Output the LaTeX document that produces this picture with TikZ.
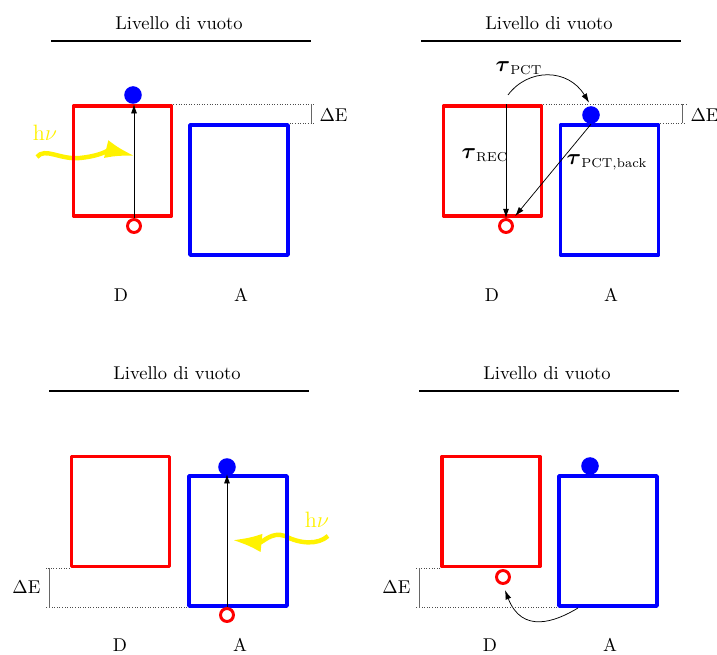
\documentclass[tikz,border=0pt]{standalone}
\usepackage{amsmath}
\usepackage{tikz}
\usetikzlibrary{arrows,arrows.meta}

\begin{document}
\begin{tikzpicture}[x=0.54pt, y=-0.54pt,
    donor/.style={draw=red, line width=2pt, line join=round, inner sep=0pt, minimum width=52.9pt, minimum height=59.4pt},
    acceptor/.style={donor, draw=blue, minimum height=70.2pt},
    elec/.style={circle, fill=blue, inner sep=0pt, minimum size=9.5pt},
    hole/.style={circle, draw=red, line width=1.6pt, inner sep=0pt, minimum size=7pt},
    photon/.style={yellow, line width=2.4pt, -{Latex[length=16pt,width=10pt]}},
    vacuum/.style={line width=1.1pt},
    level/.style={densely dotted, black!70, thin},
    gap/.style={black!60, thin},
    trans/.style={-{Latex[length=5pt,width=3.2pt]}, thin},
    tau/.style={inner sep=1pt}]
    \useasboundingbox (0,0) rectangle (717,655);
    % vuoto
    \node (t1) at (179,23) {Livello di vuoto};
    \node (t2) at (549,23) {Livello di vuoto};
    \node (t3) at (177,373) {Livello di vuoto};
    \node (t4) at (547,373) {Livello di vuoto};
    \draw [vacuum] (51,41) -- (311,41)
                   (421,41) -- (681,41)
                   (49,391) -- (309,391)
                   (419,391) -- (679,391);

    % eccitazione del donore
    \draw [photon] (37,157) .. controls (45,147) and (60,160) .. (80,158)
                            .. controls (100,156) and (110,150) .. (135,156);
    \node (hv1) [yellow, font=\large] at (45,133) {h$\nu$};
    \node [donor] (D1) at (122.5,161) {};
    \node [acceptor] (A1) at (239,190) {};
    \node [elec] (e1) at (133,95) {};
    \node [hole] (h1) at (134,226) {};
    \draw [trans] (h1.north) -- (h1.north |- D1.north);
    \coordinate (b1) at (311,0);
    \draw [level] (D1.north east) -- (D1.north east -| b1) -- +(4,0);
    \draw [level] (A1.north east) -- (A1.north east -| b1) -- +(4,0);
    \draw [gap] (D1.north east -| b1) -- (A1.north east -| b1);
    \node (dE1) [anchor=west] at (313,115.5) {$\Delta$E};
    \node (lD1) at (121,295) {D};
    \node (lA1) at (241,295) {A};

    % trasferimento di carica
    \node [donor] (D2) at (492.5,161) {};
    \node [acceptor] (A2) at (609.5,190) {};
    \node [elec] (e2) at (591,115) {};
    \node [hole] (h2) at (506,226) {};
    \coordinate (s2) at (508,95);
    \draw [trans] (h2.north |- D2.north) -- (h2.north);
    \draw [trans, shorten >=3pt] (e2.south) -- (h2.north east);
    \draw [trans, shorten >=2pt] (s2) .. controls (528,68) and (568,68) .. (e2.north);
    \node (tP) [tau] at (519,68) {$\text{\large$\boldsymbol{\tau}$}_{\mathrm{PCT}}$};
    \node (tR) [tau] at (485,155) {$\text{\large$\boldsymbol{\tau}$}_{\mathrm{REC}}$};
    \node (tB) [tau] at (607,162) {$\text{\large$\boldsymbol{\tau}$}_{\mathrm{PCT,back}}$};
    \coordinate (b2) at (682,0);
    \draw [level] (D2.north east) -- (D2.north east -| b2) -- +(4,0);
    \draw [level] (A2.north east) -- (A2.north east -| b2) -- +(4,0);
    \draw [gap] (D2.north east -| b2) -- (A2.north east -| b2);
    \node (dE2) [anchor=west] at (684,115.5) {$\Delta$E};
    \node (lD2) at (492,295) {D};
    \node (lA2) at (611,295) {A};

    % eccitazione dell'accettore
    \draw [photon] (328,536) .. controls (318,545) and (300,544) .. (285,536)
                             .. controls (272,531) and (262,543) .. (232,540);
    \node (hv3) [yellow, font=\large] at (317,520) {h$\nu$};
    \node [donor] (D3) at (120.5,511.5) {};
    \node [acceptor] (A3) at (238,541) {};
    \node [elec] (e3) at (227,467) {};
    \node [hole] (h3) at (227,615) {};
    \draw [trans] (h3.north) -- (h3.north |- A3.north);
    \coordinate (b3) at (49,0);
    \draw [level] (D3.south west) -- (D3.south west -| b3) -- +(-4,0);
    \draw [level] (A3.south west) -- (A3.south west -| b3) -- +(-4,0);
    \draw [gap] (D3.south west -| b3) -- (A3.south west -| b3);
    \node (dE3) [anchor=east] at (47,587) {$\Delta$E};
    \node (lD3) at (120,645) {D};
    \node (lA3) at (240,645) {A};

    % trasferimento della lacuna
    \node [donor] (D4) at (491,511.5) {};
    \node [acceptor] (A4) at (608,541) {};
    \node [elec] (e4) at (590,466) {};
    \node [hole] (h4) at (503,577) {};
    \coordinate (s4) at (578,608);
    \draw [trans, shorten >=3pt] (s4) .. controls (555,622) and (522,634) .. (h4.south);
    \coordinate (b4) at (419,0);
    \draw [level] (D4.south west) -- (D4.south west -| b4) -- +(-4,0);
    \draw [level] (A4.south west) -- (A4.south west -| b4) -- +(-4,0);
    \draw [gap] (D4.south west -| b4) -- (A4.south west -| b4);
    \node (dE4) [anchor=east] at (417,587) {$\Delta$E};
    \node (lD4) at (490,645) {D};
    \node (lA4) at (610,645) {A};
\end{tikzpicture}
\end{document}
